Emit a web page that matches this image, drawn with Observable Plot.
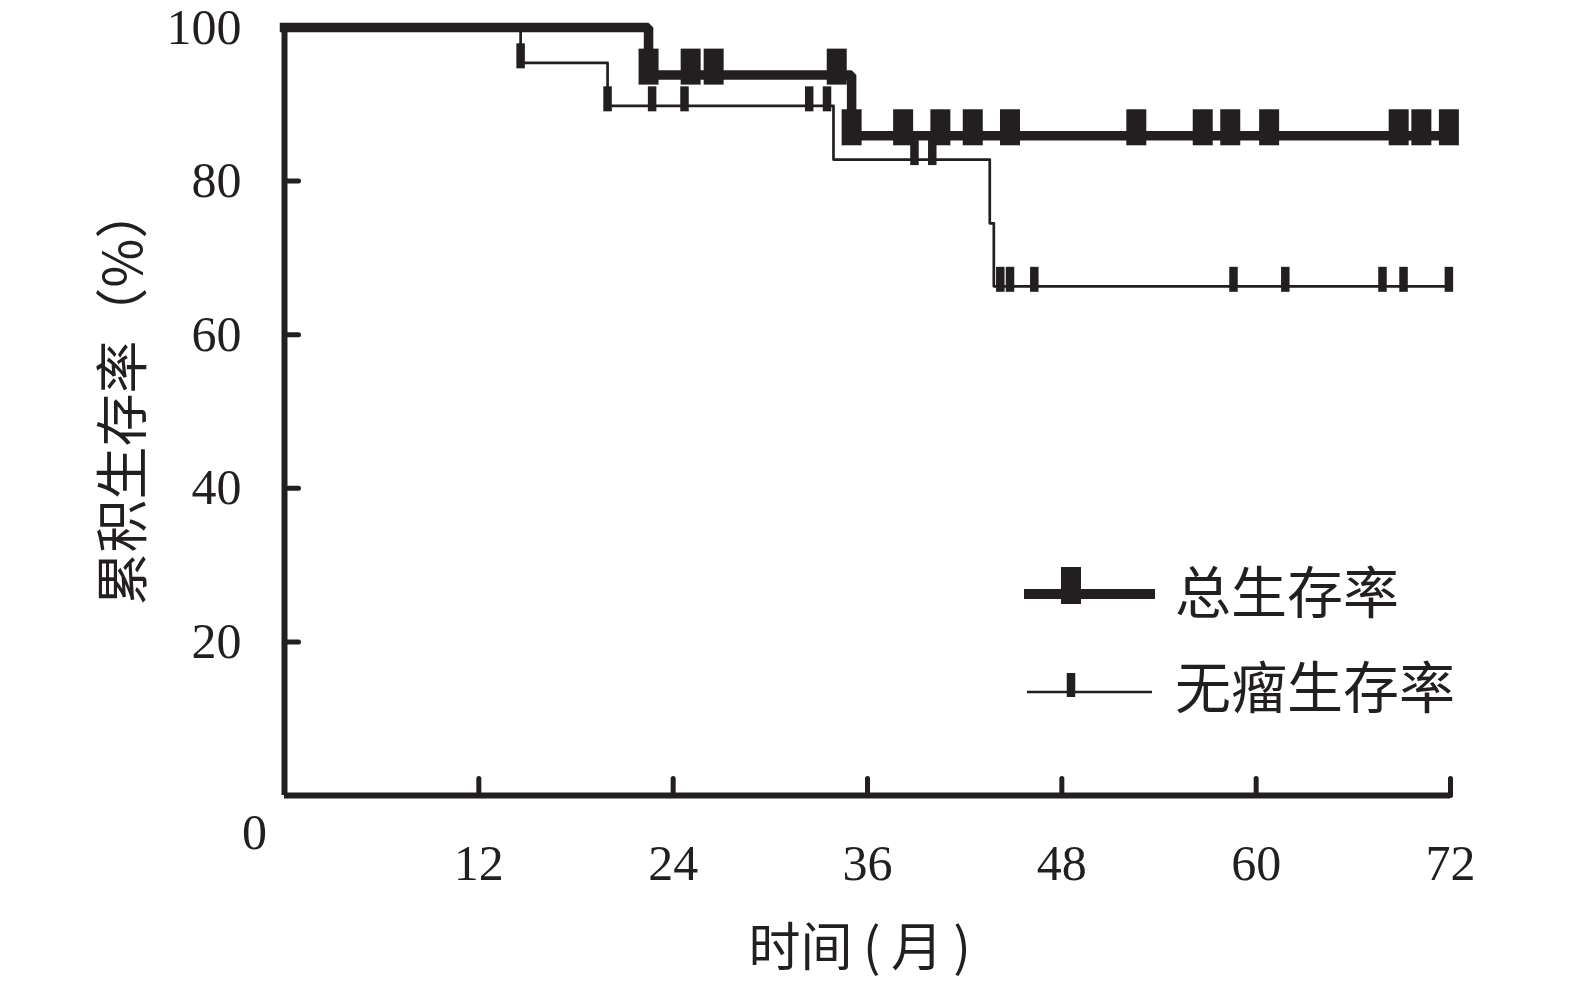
<!DOCTYPE html>
<html><head><meta charset="utf-8">
<script src="https://cdn.jsdelivr.net/npm/d3@7"></script>
<script src="https://cdn.jsdelivr.net/npm/@observablehq/plot@0.6"></script>
<style>body{margin:0;background:#fff}</style>
</head><body><div id="chart"></div>
<script>
// ---- data (months, cumulative survival %) ----
const osTimes = [0, 22.48, 35.02, 72];
const osSurv = [100, 93.8, 85.9, 85.9];
const osCensor = [22.48, 25.08, 26.5, 34.1, 35.02, 38.2, 40.5, 42.5, 44.8, 52.6, 56.7, 58.4, 60.8, 68.8, 70.2, 71.9];
const dfsTimes = [0, 14.58, 19.95, 33.9, 43.55, 43.8, 72];
const dfsSurv = [100, 95.4, 89.8, 82.8, 74.5, 66.3, 66.3];
const dfsCensor = [14.58, 19.95, 22.7, 24.7, 32.4, 33.5, 38.9, 40.0, 44.2, 44.8, 46.3, 58.6, 61.8, 67.8, 69.1, 71.9];
const xTicks = [12, 24, 36, 48, 60, 72];
const yTicks = [20, 40, 60, 80, 100];
const originLabel = ["0"];
const seriesNames = ["总生存率", "无瘤生存率"];
const xTitle = "时间\u2009(\u2009月\u2009)";
const yTitle = "累积生存率（%）";

const INK = "#231f20";
const SERIF = "'Liberation Serif', 'DejaVu Serif', serif";
const CJK = "'Noto Sans CJK SC', sans-serif";

function stepAt(times, surv, t) {
  let v = surv[0];
  for (let i = 0; i < times.length; i++) if (times[i] <= t + 1e-9) v = surv[i];
  return v;
}
const osLine = osTimes.map((t, i) => ({t, s: osSurv[i]}));
const dfsLine = dfsTimes.map((t, i) => ({t, s: dfsSurv[i]}));
const osMarks = osCensor.map(t => ({t, s: stepAt(osTimes, osSurv, t)}));
const dfsMarks = dfsCensor.map(t => ({t, s: stepAt(dfsTimes, dfsSurv, t)}));

const tickShape = {draw(ctx, l) { ctx.moveTo(0, 0); ctx.lineTo(0, -l); }};

const chart = Plot.plot({
  width: 1575,
  height: 985,
  marginLeft: 284,
  marginRight: 125,
  marginTop: 27,
  marginBottom: 190,
  x: {domain: [0, 72], axis: null},
  y: {domain: [0, 100], axis: null},
  style: {background: "white", color: INK, overflow: "visible"},
  marks: [
    // axes
    Plot.ruleX([0], {stroke: INK, strokeWidth: 6}),
    Plot.ruleY([0], {stroke: INK, strokeWidth: 6}),
    Plot.vector(xTicks, {x: d => d, y: () => 0, rotate: 0, length: 17, anchor: "start", shape: tickShape, stroke: INK, strokeWidth: 5}),
    Plot.vector(yTicks.filter(d => d < 100), {x: () => 0, y: d => d, rotate: 90, length: 14, anchor: "start", shape: tickShape, stroke: INK, strokeWidth: 5}),
    Plot.text(xTicks, {x: d => d, y: () => 0, dy: 68, text: d => String(d), fontSize: 50, fontFamily: SERIF, fill: INK, lineAnchor: "middle"}),
    Plot.text(yTicks, {x: () => 0, y: d => d, dx: -43, text: d => String(d), textAnchor: "end", fontSize: 50, fontFamily: SERIF, fill: INK, lineAnchor: "middle"}),
    Plot.text(originLabel, {x: () => 0, y: () => 0, dx: -30, dy: 37, text: d => d, fontSize: 50, fontFamily: SERIF, fill: INK, lineAnchor: "middle"}),
    // titles
    Plot.text([yTitle], {frameAnchor: "left", dx: -159, dy: 194, rotate: -90, textAnchor: "start", lineAnchor: "middle", text: d => d, fontSize: 53, fontFamily: CJK, fill: INK}),
    Plot.text([xTitle], {frameAnchor: "bottom", dx: -119, dy: 154, textAnchor: "start", lineAnchor: "middle", text: d => d, fontSize: 52, fontFamily: CJK, fill: INK}),
    // curves
    Plot.line(dfsLine, {x: "t", y: "s", curve: "step-after", stroke: INK, strokeWidth: 2.7}),
    Plot.line(osLine, {x: "t", y: "s", curve: "step-after", stroke: INK, strokeWidth: 9.5, strokeLinecap: "square", strokeLinejoin: "miter"}),
    // censor marks
    Plot.ruleX(dfsMarks, {x: "t", y1: "s", y2: "s", insetTop: -19, insetBottom: -6, stroke: INK, strokeWidth: 8.5}),
    Plot.ruleX(osMarks, {x: "t", y1: "s", y2: "s", insetTop: -26, insetBottom: -10, stroke: INK, strokeWidth: 20})
  ]
});

// legend (inside the plot area, lower right)
const lg = d3.select(chart).append("g").attr("class", "legend").attr("text-anchor", "start");
const items = [
  {name: seriesNames[0], y: 594, x1: 1024, x2: 1155, sw: 10, mx: 1071, mw: 20, mt: 567, mb: 604, ty: 593},
  {name: seriesNames[1], y: 692, x1: 1027, x2: 1152, sw: 2.7, mx: 1071, mw: 8.5, mt: 673, mb: 697, ty: 688}
];
for (const it of items) {
  lg.append("line").attr("x1", it.x1).attr("x2", it.x2).attr("y1", it.y).attr("y2", it.y)
    .attr("stroke", INK).attr("stroke-width", it.sw);
  lg.append("line").attr("x1", it.mx).attr("x2", it.mx).attr("y1", it.mt).attr("y2", it.mb)
    .attr("stroke", INK).attr("stroke-width", it.mw);
  lg.append("text").attr("x", 1175).attr("y", it.ty).attr("dy", "0.36em")
    .attr("text-anchor", "start")
    .attr("font-size", 56).attr("font-family", CJK).attr("fill", INK).text(it.name);
}

document.getElementById("chart").appendChild(chart);
</script>
</body></html>
